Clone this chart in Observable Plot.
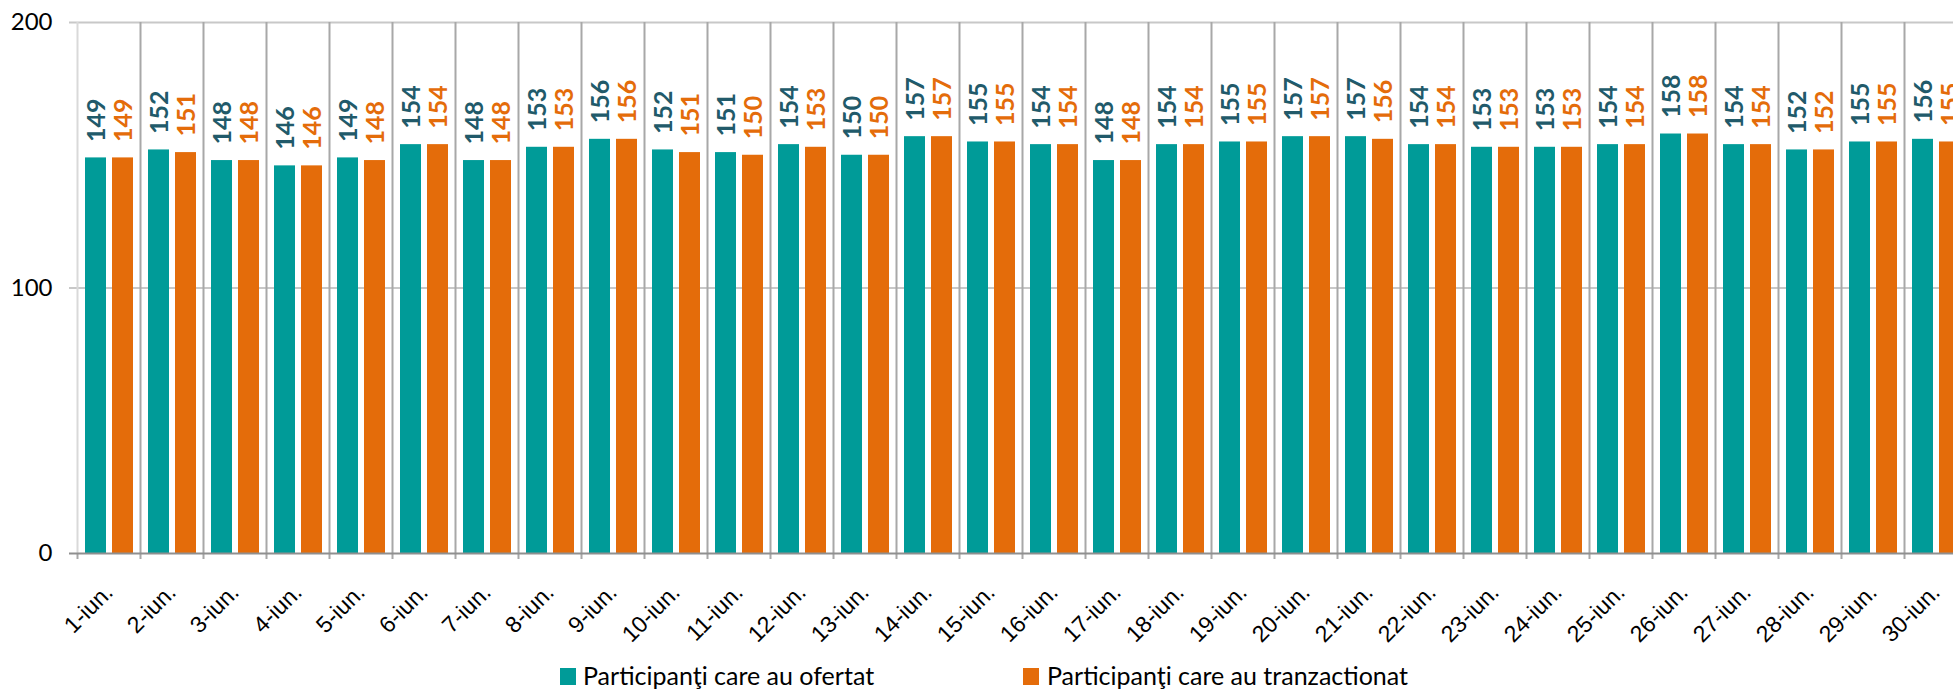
<!DOCTYPE html>
<html><head><meta charset="utf-8">
<script src="https://cdn.jsdelivr.net/npm/d3@7"></script>
<script src="https://cdn.jsdelivr.net/npm/@observablehq/plot@0.6"></script>
<style>
html,body{margin:0;padding:0;background:#fff;overflow:hidden}
body{width:1953px;height:689px}
#legend{position:relative;height:34px;font-family:Lato,"Open Sans",sans-serif;font-size:25px;color:#000}
.sw{position:absolute;width:16px;height:17px;top:13px}
.lb{position:absolute;top:8px;line-height:25px;white-space:nowrap}
</style></head><body>
<div id="chart"></div>
<div id="legend"></div>
<script>
const days = ["1-iun.","2-iun.","3-iun.","4-iun.","5-iun.","6-iun.","7-iun.","8-iun.","9-iun.","10-iun.",
  "11-iun.","12-iun.","13-iun.","14-iun.","15-iun.","16-iun.","17-iun.","18-iun.","19-iun.","20-iun.",
  "21-iun.","22-iun.","23-iun.","24-iun.","25-iun.","26-iun.","27-iun.","28-iun.","29-iun.","30-iun."];
const ofertat = [149,152,148,146,149,154,148,153,156,152,151,154,150,157,155,154,148,154,155,157,157,154,153,153,154,158,154,152,155,156];
const tranzactionat = [149,151,148,146,148,154,148,153,156,151,150,153,150,157,155,154,148,154,155,157,156,154,153,153,154,158,154,152,155,155];
const seriesNames = ["Participanţi care au ofertat","Participanţi care au tranzactionat"];
const seriesColors = ["#009b98","#e46c0a"];
const labelColors = ["#215a6a","#e46c0a"];
const yTicks = [0,100,200];

const data = days.map((d,i)=>({day:d, a:ofertat[i], b:tranzactionat[i]}));
const labelFont = "Lato, 'Open Sans', sans-serif";

const chart = Plot.plot({
  width:1953, height:655,
  marginLeft:77, marginRight:0, marginTop:22, marginBottom:102,
  x:{type:"band", domain:days, range:[77,1967], padding:0, axis:null},
  y:{domain:[0,200], range:[553,22], axis:null},
  style:{background:"#fff"},
  marks:[
    Plot.ruleY(yTicks.slice(1), {y:d=>d, stroke:"#c8c8c8", strokeWidth:2, insetLeft:-8}),
    Plot.tickX(days.slice(1), {x:d=>d, dx:-31.5, stroke:"#a8a8a8", strokeWidth:2, insetBottom:-6}),
    Plot.tickX([days[0]], {x:d=>d, dx:-31.5, stroke:"#d9d9d9", strokeWidth:2}),
    Plot.tickX([days[0]], {x:d=>d, dx:-31.5, stroke:"#a8a8a8", strokeWidth:2, insetTop:531, insetBottom:-6}),
    Plot.barY(data, {x:"day", y:"a", fill:seriesColors[0], insetLeft:8, insetRight:34}),
    Plot.barY(data, {x:"day", y:"b", fill:seriesColors[1], insetLeft:35, insetRight:7}),
    Plot.ruleY([0], {y:d=>d, stroke:"#8f8f8f", strokeWidth:2, insetLeft:-8}),
    Plot.text(data, {x:"day", y:"a", text:d=>String(d.a), rotate:-90, textAnchor:"start", lineAnchor:"middle",
      dx:-12, dy:-16, fill:labelColors[0], fontWeight:"bold", fontFamily:labelFont, fontSize:25}),
    Plot.text(data, {x:"day", y:"b", text:d=>String(d.b), rotate:-90, textAnchor:"start", lineAnchor:"middle",
      dx:15, dy:-16, fill:labelColors[1], fontWeight:"bold", fontFamily:labelFont, fontSize:25}),
    Plot.text(yTicks, {y:d=>d, text:d=>String(d), frameAnchor:"left", textAnchor:"end", dx:-25,
      fontFamily:labelFont, fontSize:24, fill:"#000"}),
    Plot.text(days, {x:d=>d, text:d=>d, frameAnchor:"bottom", rotate:-45, textAnchor:"end", lineAnchor:"middle",
      dx:0, dy:35, fontFamily:"'Liberation Sans', Arial, sans-serif", fontSize:23, fill:"#000"})
  ]
});
document.getElementById("chart").appendChild(chart);

const legend = document.getElementById("legend");
const swLeft = [560, 1023], lbLeft = [583, 1047];
seriesNames.forEach((name,i)=>{
  const s = document.createElement("div");
  s.className = "sw"; s.style.left = swLeft[i]+"px"; s.style.background = seriesColors[i];
  legend.appendChild(s);
  const t = document.createElement("div");
  t.className = "lb"; t.style.left = lbLeft[i]+"px"; t.textContent = name;
  legend.appendChild(t);
});
</script>
</body></html>
